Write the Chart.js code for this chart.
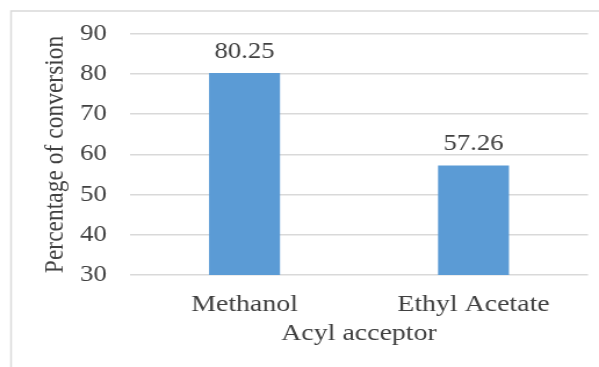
<!DOCTYPE html>
<html>
<head>
<meta charset="utf-8">
<script src="https://cdn.jsdelivr.net/npm/chart.js@4"></script>
<style>
  html, body { margin: 0; padding: 0; background: #ffffff; overflow: hidden; }
  #wrap { width: 599px; height: 367px; position: relative; }
  /* drawn at a narrower internal width, then widened to the page width */
  #c { position: absolute; left: 0; top: 0; transform: scaleX(1.1609); transform-origin: 0 0; }
</style>
</head>
<body>
<div id="wrap"><canvas id="c" width="516" height="367"></canvas></div>
<script>
const categories = ['Methanol', 'Ethyl Acetate'];
const conversion = [80.25, 57.26];
const yTicks = [30, 40, 50, 60, 70, 80, 90];
const xTitle = 'Acyl acceptor';
const yTitle = 'Percentage of conversion';

const TEXT = '#404040';
const GRID = '#d9d9d9';
const FONT = 'Liberation Serif';

// light frame along the top and left edges
const framePlugin = {
  id: 'frame',
  beforeDraw(chart) {
    const ctx = chart.ctx;
    ctx.save();
    ctx.strokeStyle = '#d9d9d9';
    ctx.lineWidth = 1.5;
    ctx.beginPath();
    ctx.moveTo(chart.width, 11);
    ctx.lineTo(9.5, 11);
    ctx.lineTo(9.5, chart.height);
    ctx.stroke();
    ctx.restore();
  }
};

// value labels above each bar
const valueLabels = {
  id: 'valueLabels',
  afterDatasetsDraw(chart) {
    const ctx = chart.ctx;
    const meta = chart.getDatasetMeta(0);
    const values = chart.data.datasets[0].data;
    ctx.save();
    ctx.font = '23px "' + FONT + '"';
    ctx.fillStyle = TEXT;
    ctx.textAlign = 'center';
    ctx.textBaseline = 'middle';
    meta.data.forEach((bar, i) => {
      ctx.fillText(values[i].toFixed(2), bar.x, bar.y - 21);
    });
    ctx.restore();
  }
};

new Chart(document.getElementById('c'), {
  type: 'bar',
  data: {
    labels: categories,
    datasets: [{
      data: conversion,
      backgroundColor: '#5b9bd5',
      borderWidth: 0,
      barPercentage: 0.31,
      categoryPercentage: 1.0
    }]
  },
  options: {
    responsive: false,
    animation: false,
    events: [],
    layout: { padding: { top: 33, right: 9.5, bottom: 0, left: 0 } },
    plugins: {
      legend: { display: false },
      tooltip: { enabled: false },
      title: { display: false }
    },
    scales: {
      x: {
        grid: { display: false, drawTicks: false },
        border: { display: false },
        ticks: {
          color: TEXT,
          font: { family: FONT, size: 24 },
          padding: 15,
          maxRotation: 0
        },
        title: {
          display: true,
          text: xTitle,
          color: TEXT,
          font: { family: FONT, size: 24 },
          padding: { top: 0, bottom: 18.6 }
        },
        afterFit(scale) { scale.height = 92; }
      },
      y: {
        min: yTicks[0],
        max: yTicks[yTicks.length - 1],
        afterBuildTicks(scale) { scale.ticks = yTicks.map(v => ({ value: v })); },
        grid: { color: GRID, lineWidth: 1.5, drawTicks: false },
        border: { display: false },
        ticks: {
          color: TEXT,
          font: { family: FONT, size: 23 },
          padding: 20
        },
        title: {
          display: true,
          text: yTitle,
          color: TEXT,
          font: { family: FONT, size: 23.5 },
          padding: { top: 34, bottom: 0 }
        },
        afterFit(scale) { scale.width = 112; }
      }
    }
  },
  plugins: [framePlugin, valueLabels]
});
</script>
</body>
</html>
